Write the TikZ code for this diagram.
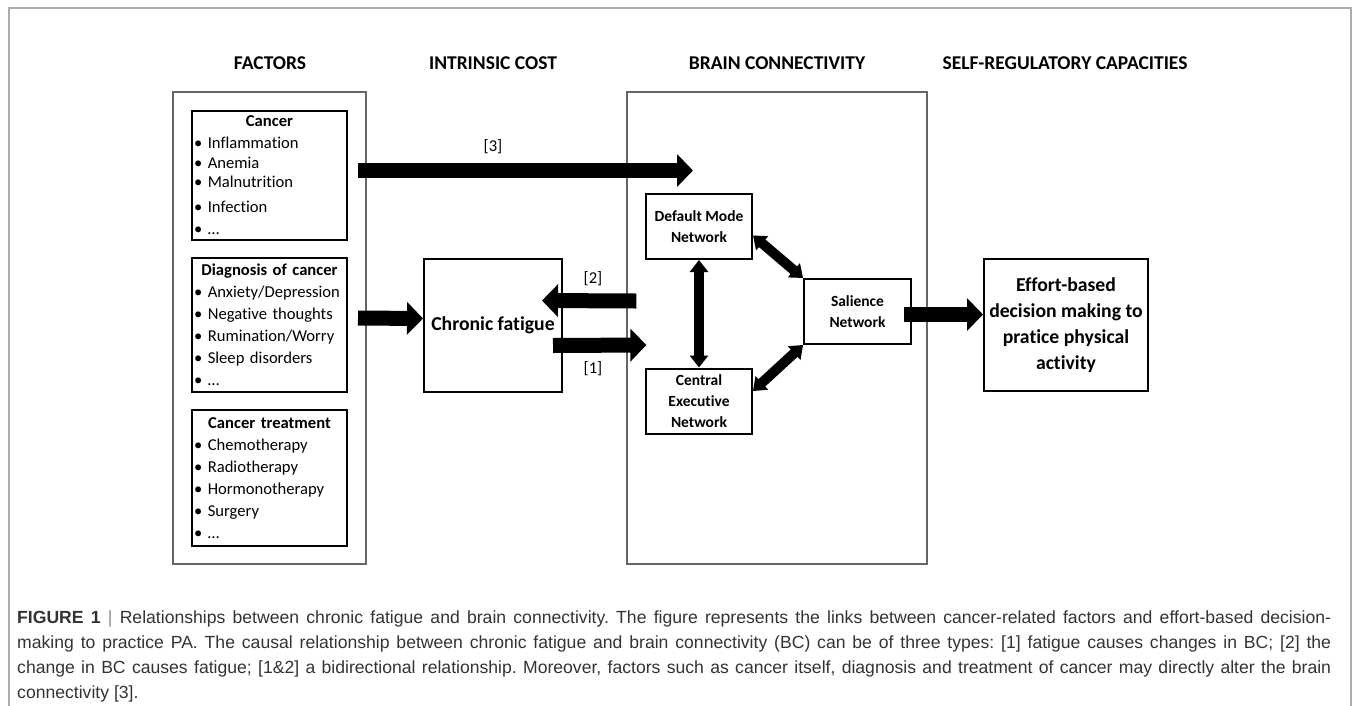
\documentclass[tikz,border=0pt]{standalone}
\usepackage{fontspec}
\setmainfont{Carlito}[Ligatures=NoCommon]
\newfontfamily\capfont{Liberation Sans}
\usetikzlibrary{positioning,calc,arrows.meta}
\definecolor{capgray}{rgb}{0.2,0.2,0.2}
\definecolor{bargray}{rgb}{0.55,0.55,0.55}
\definecolor{framegray}{rgb}{0.68,0.68,0.68}
\definecolor{panelgray}{rgb}{0.4,0.4,0.4}
\frenchspacing

\begin{document}
\begin{tikzpicture}
  [x=1pt,y=-1pt,
   headN/.style={font=\fontsize{19.5}{23}\selectfont\bfseries},
   panelN/.style={draw=panelgray,line width=1.2pt,minimum width=193pt,minimum height=472pt},
   boxN/.style={draw,line width=2pt,minimum width=155pt,inner xsep=2pt,text width=151pt,
                align=left,font=\fontsize{16.6}{22}\selectfont},
   netN/.style={draw,line width=2pt,minimum width=106pt,minimum height=65pt,inner sep=0pt,
                align=center,font=\fontsize{15.5}{21}\selectfont\bfseries},
   bigN/.style={draw,line width=2pt,align=center,font=\fontsize{19.7}{26}\selectfont\bfseries},
   labN/.style={font=\fontsize{16.6}{20}\selectfont},
   bigArr/.style={line width=15pt,-{Triangle[width=32pt,length=16pt]}},
   smallArr/.style={line width=10pt,{Triangle[width=18pt,length=12pt]}-{Triangle[width=18pt,length=12pt]}},
  ]
 \useasboundingbox (0,0) rectangle (1355,705);
 \draw[framegray,line width=1.5pt] (9,712) -- (9,8) -- (1351,8) -- (1351,712);

 \node[headN] (hFac) at (270,63)  {FACTORS};
 \node[headN] (hInt) at (493,63)  {INTRINSIC COST};
 \node[headN] (hBC)  at (777,63)  {BRAIN CONNECTIVITY};
 \node[headN] (hSelf) at (1065,63) {SELF-REGULATORY CAPACITIES};

 \node[panelN]                  (fac) at (269.5,328) {};
 \node[panelN,minimum width=300pt] (bc) at (777,328) {};

 \node[boxN,minimum height=129pt] (can) at (269.5,175.5)
   {{\centering\bfseries Cancer\par}
    • Inflammation\\[-2pt] • Anemia\\[-3pt] • Malnutrition\\[3pt] • Infection\\ • …};
 \node[boxN,minimum height=134pt] (dia) at (269.5,325)
   {{\centering\bfseries Diagnosis of cancer\par}
    • Anxiety/Depression\\ • Negative thoughts\\ • Rumination/Worry\\ • Sleep disorders\\ • …};
 \node[boxN,minimum height=136pt] (tre) at (269.5,478)
   {{\centering\bfseries Cancer treatment\par}
    • Chemotherapy\\ • Radiotherapy\\ • Hormonotherapy\\ • Surgery\\ • …};

 \node[bigN,minimum width=138pt,minimum height=133pt] (fat) at (493,325.5) {Chronic fatigue};

 \node[netN] (dmn) at (699,226.5) {Default Mode\\Network};
 \node[netN] (cen) at (699,401)   {Central\\Executive\\Network};
 \node[netN,minimum width=107pt] (sal) at (857.5,311.5) {Salience\\Network};

 \node[bigN,minimum width=164pt,minimum height=132pt] (eff) at (1066,325)
   {Effort-based\\decision making to\\pratice physical\\activity};

 \coordinate (end3) at (693,170.5);
 \draw[bigArr] ($(can.east)+(10,-5)$) -- (end3);
 \draw[bigArr] ($(dia.east)+(10,-7)$) -- ($(fat.west)+(0,-7)$);
 \draw[bigArr] ($(bc.west)+(10,-27)$) -- ($(fat.east)+(-21,-25)$);
 \draw[bigArr] ($(fat.east)+(-10,20)$) -- ($(bc.west)+(20,17)$);
 \draw[bigArr] ($(sal.east)+(-8,3)$) -- ($(eff.west)+(0,-10.5)$);

 \draw[smallArr] (dmn.south) -- (cen.north);
 \draw[smallArr] ($(dmn.east)+(0,9)$) -- (sal.north west);
 \draw[smallArr] ($(cen.east)+(0,-10)$) -- (sal.south west);

 \node[labN] (lab3) at (493,147) {[3]};
 \node[labN] (lab2) at (593,279) {[2]};
 \node[labN] (lab1) at (593,369) {[1]};

 \node[anchor=north west,inner sep=0pt,text width=1314pt,align=justify,text=capgray,
       font=\capfont\fontsize{17.6}{25}\selectfont] (cap) at (17,611)
   {\hyphenpenalty=10000\emergencystretch=3em
    \textbf{FIGURE 1} {\color{bargray}|} Relationships between chronic fatigue and brain connectivity. The figure represents the links between cancer-related factors and effort-based decision-\linebreak
    making to practice PA. The causal relationship between chronic fatigue and brain connectivity (BC) can be of three types: [1] fatigue causes changes in BC; [2] the\linebreak
    change in BC causes fatigue; [1\&2] a bidirectional relationship. Moreover, factors such as cancer itself, diagnosis and treatment of cancer may directly alter the brain\linebreak
    connectivity [3].};

\end{tikzpicture}
\end{document}
